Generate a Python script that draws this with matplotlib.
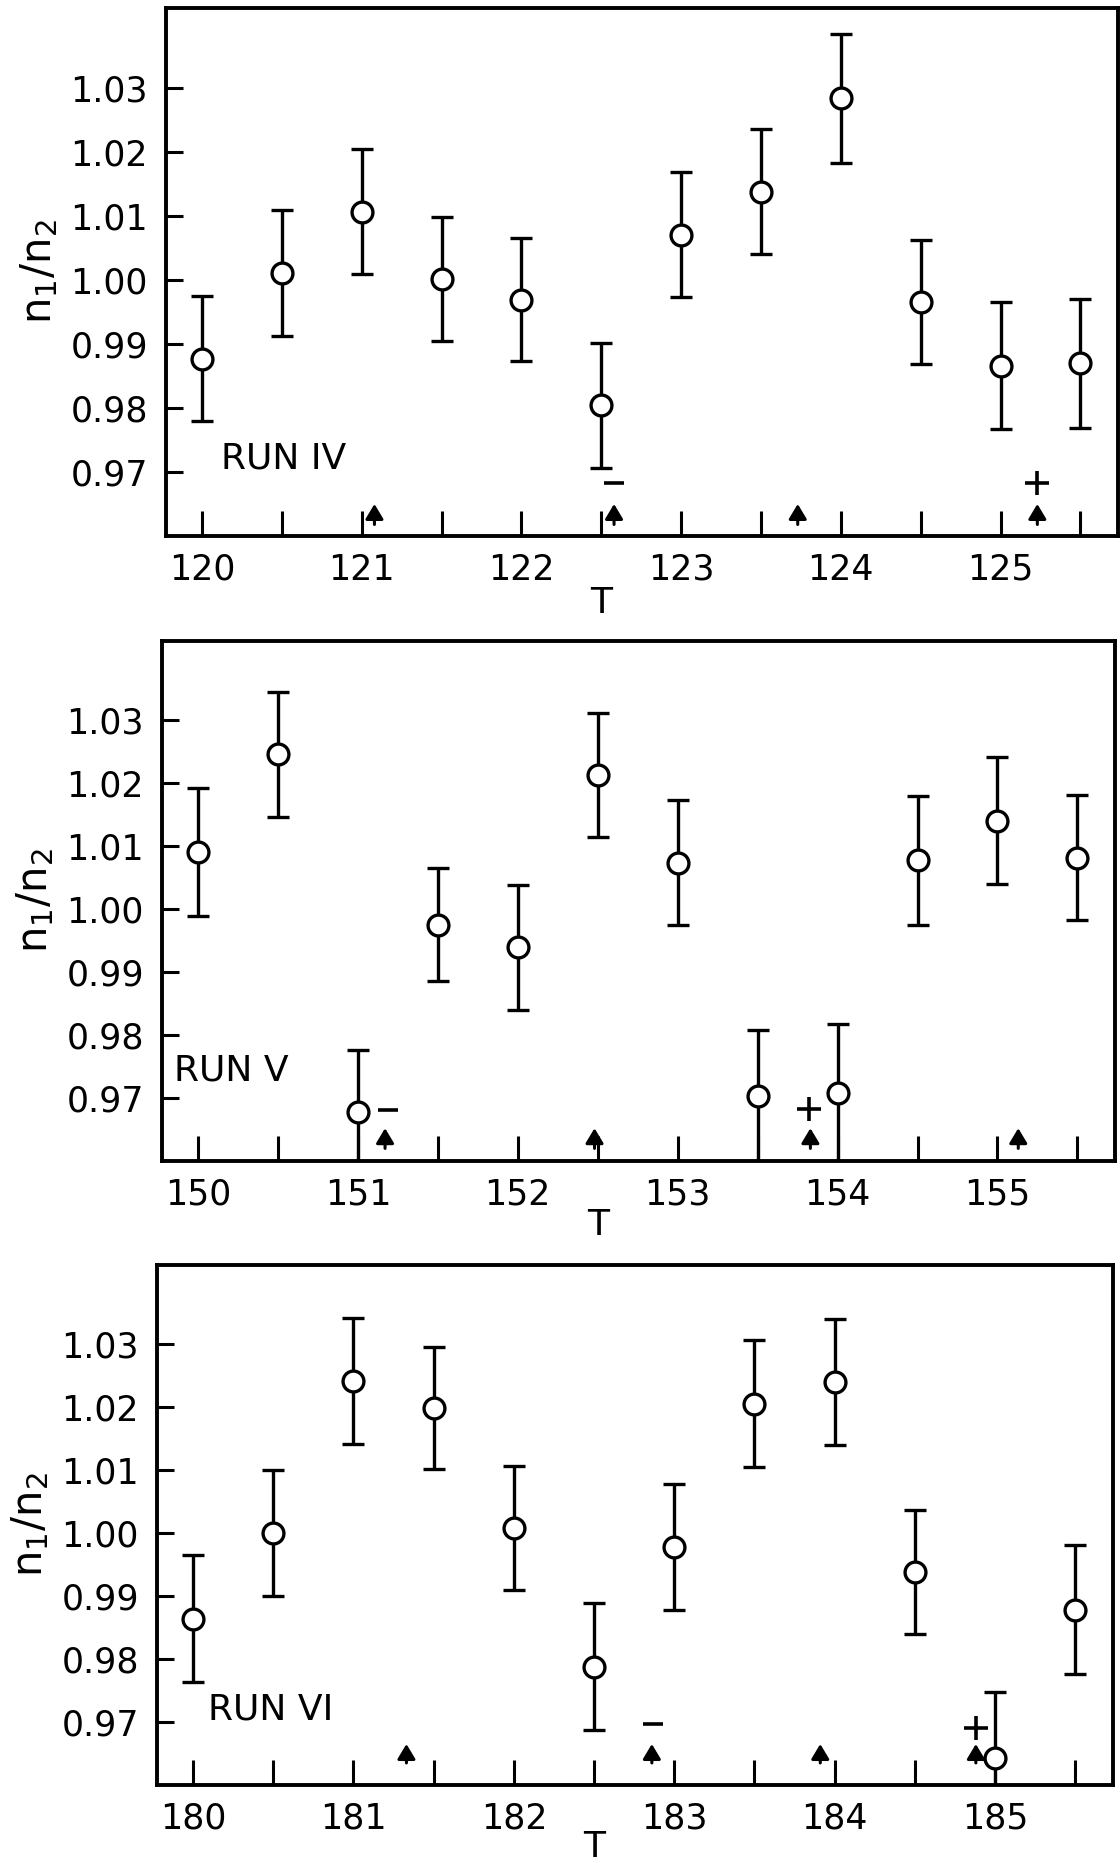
import matplotlib
matplotlib.use("Agg")
import matplotlib.pyplot as plt
import matplotlib.transforms as mtransforms

plt.rcParams['font.family'] = ['DejaVu Sans']
plt.rcParams['mathtext.fontset'] = 'dejavusans'

# Run IV
run4_T = [120.0, 120.5, 121.0, 121.5, 122.0, 122.5, 123.0, 123.5, 124.0, 124.5, 125.0, 125.5]
run4_ratio = [0.9877, 1.0011, 1.0107, 1.0001, 0.9969, 0.9804, 1.0071, 1.0138, 1.0284, 0.9965, 0.9866, 0.9870]
run4_err = [0.0098, 0.0098, 0.0098, 0.0097, 0.0096, 0.0097, 0.0098, 0.0098, 0.0101, 0.0097, 0.0099, 0.0101]
run4_arrows = [121.08, 122.58, 123.73, 125.23]
run4_signs = ['-', '+']
run4_sign_T = [122.58, 125.23]
run4_sign_y = [0.9683, 0.9683]

# Run V
run5_T = [150.0, 150.5, 151.0, 151.5, 152.0, 152.5, 153.0, 153.5, 154.0, 154.5, 155.0, 155.5]
run5_ratio = [1.0090, 1.0245, 0.9677, 0.9975, 0.9939, 1.0212, 1.0073, 0.9703, 0.9708, 1.0077, 1.0140, 1.0081]
run5_err = [0.0101, 0.0099, 0.0099, 0.0090, 0.0099, 0.0098, 0.0099, 0.0105, 0.0109, 0.0102, 0.0101, 0.0099]
run5_arrows = [151.17, 152.48, 153.83, 155.13]
run5_signs = ['-', '+']
run5_sign_T = [151.19, 153.82]
run5_sign_y = [0.9681, 0.9682]

# Run VI
run6_T = [180.0, 180.5, 181.0, 181.5, 182.0, 182.5, 183.0, 183.5, 184.0, 184.5, 185.0, 185.5]
run6_ratio = [0.9864, 1.0000, 1.0241, 1.0198, 1.0008, 0.9788, 0.9978, 1.0205, 1.0240, 0.9938, 0.9643, 0.9878]
run6_err = [0.0101, 0.0100, 0.0100, 0.0097, 0.0098, 0.0100, 0.0100, 0.0101, 0.0100, 0.0098, 0.0105, 0.0102]
run6_arrows = [181.33, 182.86, 183.91, 184.88]
run6_signs = ['-', '+']
run6_sign_T = [182.87, 184.88]
run6_sign_y = [0.9696, 0.9691]

run_names = ['RUN IV', 'RUN V', 'RUN VI']
run_starts = [120, 150, 180]

W, H = 1120, 1863
fig = plt.figure(figsize=(W / 100, H / 100), dpi=100)

# axes boxes in pixels: left, right, top, bottom
boxes = [(166, 1118, 8, 536), (162, 1115, 641, 1161), (157, 1113, 1265, 1785)]
label_pos = [(120.12, 0.9705), (149.85, 0.9728), (180.09, 0.9704)]
arrow_y = [(0.9618, 0.9650), (0.9620, 0.9652), (0.9635, 0.9665)]
t_offset = [-0.095, -0.090, -0.086]

runs = [
    (run4_T, run4_ratio, run4_err, run4_arrows, run4_signs, run4_sign_T, run4_sign_y),
    (run5_T, run5_ratio, run5_err, run5_arrows, run5_signs, run5_sign_T, run5_sign_y),
    (run6_T, run6_ratio, run6_err, run6_arrows, run6_signs, run6_sign_T, run6_sign_y),
]

for i, (T, ratio, err, arrows, signs, sign_T, sign_y) in enumerate(runs):
    l, r, t, b = boxes[i]
    ax = fig.add_axes([l / W, (H - b) / H, (r - l) / W, (b - t) / H])
    start = run_starts[i]

    ax.errorbar(T, ratio, yerr=err, fmt='o', ms=15, mfc='white', mec='black',
                mew=2.4, ecolor='black', elinewidth=2.4, capsize=8, capthick=2.4,
                color='black', zorder=3)

    # field reversal arrows
    for xa in arrows:
        ax.annotate('', xy=(xa, arrow_y[i][1]), xytext=(xa, arrow_y[i][0]),
                    arrowprops=dict(arrowstyle='-|>,head_length=0.5,head_width=0.3',
                                    lw=2.2, color='black', mutation_scale=18,
                                    shrinkA=0, shrinkB=0))
    for s, xs, ys in zip(signs, sign_T, sign_y):
        if s == '+':
            ax.plot(xs, ys, marker='+', ms=17, mew=2.6, color='black')
        else:
            ax.plot(xs, ys, marker='_', ms=15, mew=2.6, color='black')

    ax.text(label_pos[i][0], label_pos[i][1], run_names[i], fontsize=26,
            ha='left', va='baseline')

    ax.set_xlim(start - 0.225, start + 5.735)
    ax.set_ylim(0.960, 1.0425)

    xt = [start + 0.5 * k for k in range(12)]
    ax.set_xticks(xt)
    ax.set_xticklabels([str(int(v)) if v == int(v) else '' for v in xt])
    ax.set_yticks([0.97, 0.98, 0.99, 1.00, 1.01, 1.02, 1.03])
    ax.set_yticklabels(['0.97', '0.98', '0.99', '1.00', '1.01', '1.02', '1.03'])

    ax.tick_params(axis='x', direction='in', length=18, width=2.2, labelsize=25, pad=12)
    ax.tick_params(axis='y', direction='in', length=12, width=2.2, labelsize=25, pad=13)
    for sp in ax.spines.values():
        sp.set_linewidth(2.8)

    # axis titles
    trans = mtransforms.blended_transform_factory(ax.transData, ax.transAxes)
    ax.text(start + 2.5, t_offset[i], 'T', transform=trans, fontsize=26, ha='center', va='top')
    ax.text(-0.133, 0.5, r'$\mathregular{n_1/n_2}$', transform=ax.transAxes,
            fontsize=30, rotation=90, ha='center', va='center')

fig.savefig('out.png', dpi=100)
